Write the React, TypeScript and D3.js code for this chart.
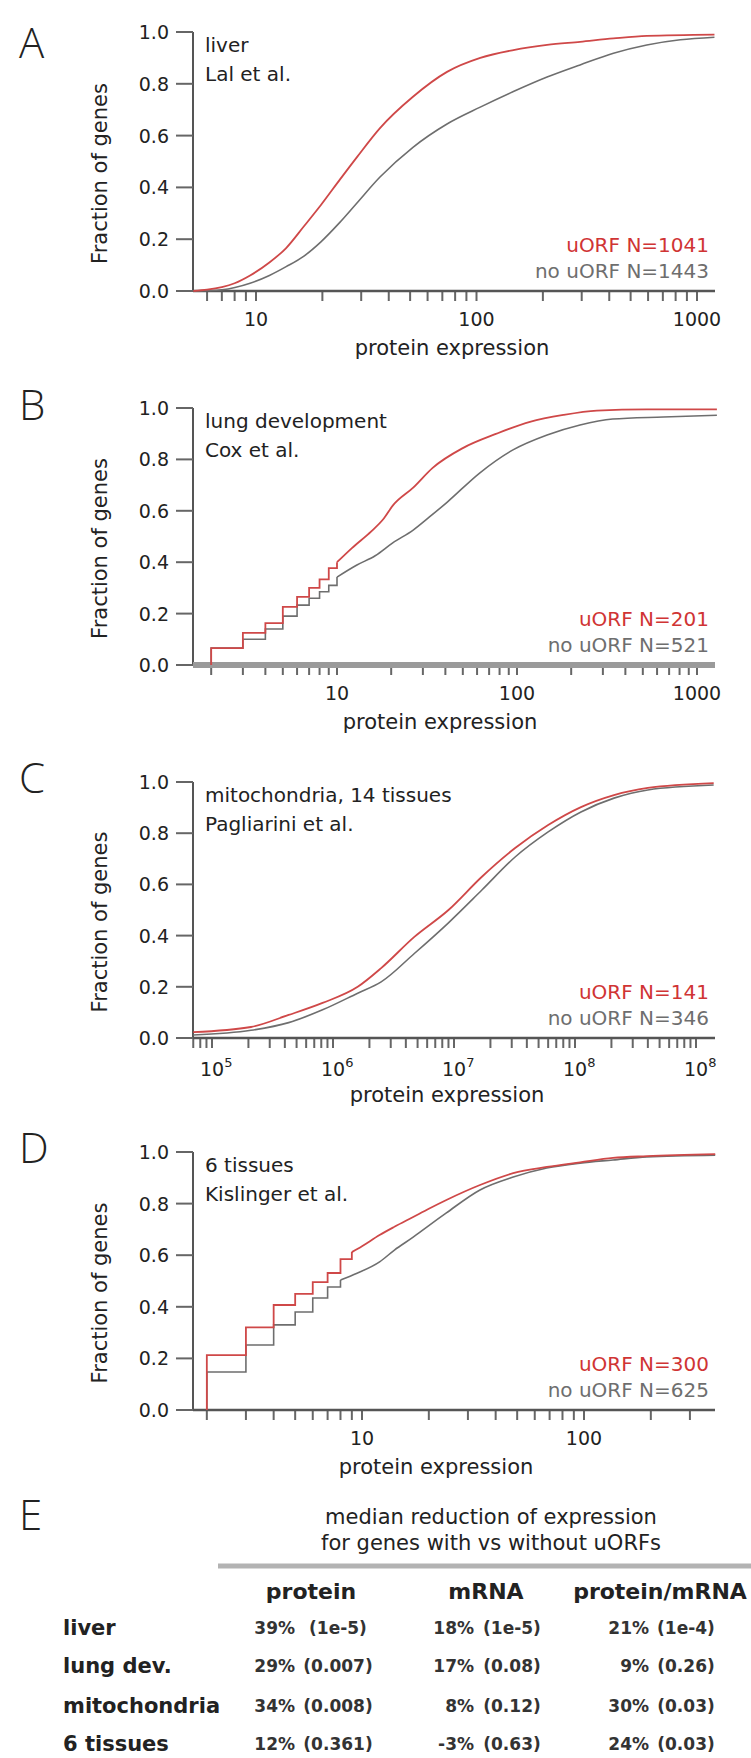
import React from 'react';
import * as d3 from 'd3';

type Pt = [number, number];

// ---------- shared axis values ----------
const yTickValues = [0, 0.2, 0.4, 0.6, 0.8, 1.0];
const yTickLabels = ['0.0', '0.2', '0.4', '0.6', '0.8', '1.0'];

// ---------- panel A : liver, Lal et al. ----------
const liverXTicks = [10, 100, 1000];
const liverXLabels = ['10', '100', '1000'];
const liverUorf: Pt[] = [[5.2, 0], [6, 0.005], [7, 0.015], [8, 0.03], [9.4, 0.06], [11.5, 0.11], [13.7, 0.166], [16.5, 0.25], [19.7, 0.332], [24, 0.43], [28.7, 0.517], [36.5, 0.629], [51.5, 0.75], [73.5, 0.846], [104, 0.9], [147, 0.93], [209, 0.95], [295, 0.962], [418, 0.975], [592, 0.985], [1200, 0.99]];
const liverNoUorf: Pt[] = [[5.2, 0], [7, 0.005], [9.4, 0.03], [11.5, 0.06], [13.7, 0.094], [16.5, 0.135], [19.7, 0.19], [24, 0.265], [28.7, 0.34], [36.5, 0.44], [51.5, 0.555], [73.5, 0.645], [104, 0.71], [147, 0.77], [209, 0.826], [295, 0.873], [418, 0.918], [592, 0.95], [840, 0.97], [1200, 0.98]];

// ---------- panel B : lung development, Cox et al. ----------
const lungXTicks = [10, 100, 1000];
const lungXLabels = ['10', '100', '1000'];
const lungUorfSteps: Pt[] = [[2, 0], [2, 0.066], [3, 0.125], [4, 0.163], [5, 0.226], [6, 0.265], [7, 0.3], [8, 0.333], [9, 0.377], [10, 0.4]];
const lungUorf: Pt[] = [[10, 0.4], [12.1, 0.455], [15.5, 0.52], [18.2, 0.57], [20.4, 0.62], [26.5, 0.69], [34, 0.767], [50, 0.844], [77, 0.9], [118, 0.946], [181, 0.973], [278, 0.99], [527, 0.995], [1290, 0.995]];
const lungNoUorfSteps: Pt[] = [[2, 0], [2, 0.066], [3, 0.1], [4, 0.14], [5, 0.19], [6, 0.233], [7, 0.26], [8, 0.285], [9, 0.31], [10, 0.342]];
const lungNoUorf: Pt[] = [[10, 0.342], [12.9, 0.389], [16.3, 0.425], [20.4, 0.475], [26.5, 0.525], [32.5, 0.575], [41, 0.634], [62, 0.747], [95, 0.837], [147, 0.895], [224, 0.934], [340, 0.957], [650, 0.965], [1290, 0.972]];

// ---------- panel C : mitochondria, Pagliarini et al. ----------
const mitoXTicks = [1e5, 1e6, 1e7, 1e8, 1e9];
const mitoXExponents = ['5', '6', '7', '8', '8'];
const mitoUorf: Pt[] = [[7e4, 0.023], [2.1e5, 0.043], [4.3e5, 0.09], [8.2e5, 0.137], [1.6e6, 0.2], [2.5e6, 0.273], [4.7e6, 0.395], [9e6, 0.5], [1.7e7, 0.63], [3.2e7, 0.742], [6e7, 0.832], [1.12e8, 0.902], [2.1e8, 0.949], [4e8, 0.977], [1.4e9, 0.996]];
const mitoNoUorf: Pt[] = [[7e4, 0.012], [2.1e5, 0.03], [4.3e5, 0.06], [8.2e5, 0.11], [1.6e6, 0.175], [2.5e6, 0.219], [4.7e6, 0.33], [9e6, 0.45], [1.7e7, 0.578], [3.2e7, 0.707], [6e7, 0.805], [1.12e8, 0.883], [2.1e8, 0.937], [4e8, 0.969], [1.4e9, 0.988]];

// ---------- panel D : 6 tissues, Kislinger et al. ----------
const tissueXTicks = [10, 100];
const tissueXLabels = ['10', '100'];
const tissueUorfSteps: Pt[] = [[2, 0], [2, 0.213], [3, 0.32], [4, 0.407], [5, 0.45], [6, 0.496], [7, 0.531], [8, 0.585], [9, 0.612]];
const tissueUorf: Pt[] = [[9, 0.612], [10, 0.635], [12, 0.678], [14, 0.71], [17, 0.748], [20, 0.78], [24, 0.814], [34, 0.872], [48, 0.918], [68, 0.942], [96, 0.96], [135, 0.977], [192, 0.984], [390, 0.992]];
const tissueNoUorfSteps: Pt[] = [[2, 0], [2, 0.147], [3, 0.252], [4, 0.33], [5, 0.38], [6, 0.434], [7, 0.477], [8, 0.504]];
const tissueNoUorf: Pt[] = [[8, 0.504], [9.5, 0.53], [12, 0.574], [14, 0.62], [17, 0.67], [20, 0.715], [24, 0.764], [34, 0.853], [48, 0.903], [68, 0.938], [96, 0.957], [135, 0.969], [192, 0.981], [390, 0.988]];

// ---------- panel E : table ----------
const tableTitle = ['median reduction of expression', 'for genes with vs without uORFs'];
const tableColumns = ['protein', 'mRNA', 'protein/mRNA'];
const tableRows = ['liver', 'lung dev.', 'mitochondria', '6 tissues'];
const proteinPct = ['39%', '29%', '34%', '12%'];
const proteinP = ['(1e-5)', '(0.007)', '(0.008)', '(0.361)'];
const mrnaPct = ['18%', '17%', '8%', '-3%'];
const mrnaP = ['(1e-5)', '(0.08)', '(0.12)', '(0.63)'];
const ratioPct = ['21%', '9%', '30%', '24%'];
const ratioP = ['(1e-4)', '(0.26)', '(0.03)', '(0.03)'];

const FONT = "'DejaVu Sans', 'Liberation Sans', sans-serif";
const LETTER_FONT = "'Open Sans', 'Liberation Sans', sans-serif";
const RED = '#cf4848';
const RED_TEXT = '#d03434';
const GRAY = '#6e6e6e';
const AXIS = '#555';
const AX_LEFT = 193;
const AX_RIGHT = 715;

interface PanelSpec {
  letter: string;
  letterY: number;
  y1: number;
  y0: number;
  dom: [number, number];
  rng: [number, number];
  ticks: number[];
  labels?: string[];
  exps?: string[];
  t1: string;
  t2: string;
  nU: string;
  nN: string;
  red: Pt[];
  gray: Pt[];
  redSteps?: Pt[];
  graySteps?: Pt[];
  thickXAxis?: boolean;
  titleX: number;
}

const panels: PanelSpec[] = [
  { letter: 'A', letterY: 58, y1: 32, y0: 291, dom: [10, 1000], rng: [256, 697], ticks: liverXTicks, labels: liverXLabels, t1: 'liver', t2: 'Lal et al.', nU: 'uORF N=1041', nN: 'no uORF N=1443', red: liverUorf, gray: liverNoUorf, titleX: 452 },
  { letter: 'B', letterY: 420, y1: 408, y0: 665, dom: [10, 1000], rng: [337, 697], ticks: lungXTicks, labels: lungXLabels, t1: 'lung development', t2: 'Cox et al.', nU: 'uORF N=201', nN: 'no uORF N=521', red: lungUorf, gray: lungNoUorf, redSteps: lungUorfSteps, graySteps: lungNoUorfSteps, thickXAxis: true, titleX: 440 },
  { letter: 'C', letterY: 793, y1: 782, y0: 1038, dom: [1e5, 1e9], rng: [212, 696], ticks: mitoXTicks, exps: mitoXExponents, t1: 'mitochondria, 14 tissues', t2: 'Pagliarini et al.', nU: 'uORF N=141', nN: 'no uORF N=346', red: mitoUorf, gray: mitoNoUorf, titleX: 447 },
  { letter: 'D', letterY: 1163, y1: 1152, y0: 1410, dom: [10, 100], rng: [362, 584], ticks: tissueXTicks, labels: tissueXLabels, t1: '6 tissues', t2: 'Kislinger et al.', nU: 'uORF N=300', nN: 'no uORF N=625', red: tissueUorf, gray: tissueNoUorf, redSteps: tissueUorfSteps, graySteps: tissueNoUorfSteps, titleX: 436 },
];

function Panel({ p }: { p: PanelSpec }) {
  const x = d3.scaleLog().domain(p.dom).range(p.rng);
  const y = d3.scaleLinear().domain([0, 1]).range([p.y0, p.y1]);
  const lo = x.invert(AX_LEFT);
  const hi = x.invert(AX_RIGHT);
  const minor = d3.scaleLog().domain([lo, hi]).ticks().filter((t) => t >= lo && t <= hi);
  const smooth = d3.line<Pt>().x((d) => x(d[0])).y((d) => y(d[1])).curve(d3.curveMonotoneX);
  const steps = d3.line<Pt>().x((d) => x(d[0])).y((d) => y(d[1])).curve(d3.curveStepAfter);
  const mid = (p.y0 + p.y1) / 2;
  return (
    <g>
      <text x={19} y={p.letterY} fontFamily={LETTER_FONT} fontWeight={300} fontSize={42} fill="#222">{p.letter}</text>
      {/* y axis */}
      <line x1={AX_LEFT} x2={AX_LEFT} y1={p.y1} y2={p.y0} stroke={AXIS} strokeWidth={2} />
      {yTickValues.map((v, i) => (
        <g key={i}>
          <line x1={AX_LEFT - 17} x2={AX_LEFT} y1={y(v)} y2={y(v)} stroke="#666" strokeWidth={2} />
          <text x={169} y={y(v) + 7} textAnchor="end" fontFamily={FONT} fontSize={19} fill="#222">{yTickLabels[i]}</text>
        </g>
      ))}
      <text transform={`translate(100,${mid + 12}) rotate(-90)`} textAnchor="middle" dominantBaseline="central" fontFamily={FONT} fontSize={21} fill="#222">Fraction of genes</text>
      {/* x axis */}
      {minor.map((t, i) => (
        <line key={i} x1={x(t)} x2={x(t)} y1={p.y0} y2={p.y0 + 10} stroke="#666" strokeWidth={2} />
      ))}
      <line x1={AX_LEFT} x2={AX_RIGHT} y1={p.y0} y2={p.y0} stroke={p.thickXAxis ? '#9a9a9a' : AXIS} strokeWidth={p.thickXAxis ? 6 : 2.5} />
      {p.ticks.map((t, i) =>
        p.exps ? (
          <text key={i} x={x(t) - 12} y={p.y0 + 38} fontFamily={FONT} fontSize={19} fill="#222">
            10<tspan dy={-9} fontSize={13}>{p.exps[i]}</tspan>
          </text>
        ) : (
          <text key={i} x={x(t)} y={p.y0 + 35} textAnchor="middle" fontFamily={FONT} fontSize={19} fill="#222">{p.labels![i]}</text>
        )
      )}
      <text x={p.titleX} y={p.y0 + 64} textAnchor="middle" fontFamily={FONT} fontSize={21} fill="#222">protein expression</text>
      {/* curves */}
      {p.graySteps && <path d={steps(p.graySteps) || ''} fill="none" stroke={GRAY} strokeWidth={1.6} />}
      <path d={smooth(p.gray) || ''} fill="none" stroke={GRAY} strokeWidth={1.6} />
      {p.redSteps && <path d={steps(p.redSteps) || ''} fill="none" stroke={RED} strokeWidth={1.8} />}
      <path d={smooth(p.red) || ''} fill="none" stroke={RED} strokeWidth={1.8} />
      {/* annotations */}
      <text x={205} y={p.y1 + 20} fontFamily={FONT} fontSize={20} fill="#222">{p.t1}</text>
      <text x={205} y={p.y1 + 49} fontFamily={FONT} fontSize={20} fill="#222">{p.t2}</text>
      <text x={709} y={p.y0 - 39} textAnchor="end" fontFamily={FONT} fontSize={20} fill={RED_TEXT}>{p.nU}</text>
      <text x={709} y={p.y0 - 13} textAnchor="end" fontFamily={FONT} fontSize={20} fill={GRAY}>{p.nN}</text>
    </g>
  );
}

function Table() {
  const rowY = [1628, 1666, 1706, 1744];
  const colCenter = [311, 486, 660];
  const pctRight = [295, 474, 649];
  const pCenter = [338, 512, 686];
  const pcts = [proteinPct, mrnaPct, ratioPct];
  const ps = [proteinP, mrnaP, ratioP];
  return (
    <g>
      <text x={19} y={1530} fontFamily={LETTER_FONT} fontWeight={300} fontSize={42} fill="#222">E</text>
      <text x={491} y={1524} textAnchor="middle" fontFamily={FONT} fontSize={21} fill="#222">{tableTitle[0]}</text>
      <text x={491} y={1550} textAnchor="middle" fontFamily={FONT} fontSize={21} fill="#222">{tableTitle[1]}</text>
      <line x1={218} x2={751} y1={1566} y2={1566} stroke="#b3b3b3" strokeWidth={5} />
      {tableColumns.map((c, i) => (
        <text key={c} x={colCenter[i]} y={1599} textAnchor="middle" fontFamily={FONT} fontWeight="bold" fontSize={22} fill="#222">{c}</text>
      ))}
      {tableRows.map((r, j) => (
        <g key={r}>
          <text x={63} y={rowY[j] + 7} fontFamily={FONT} fontWeight="bold" fontSize={21} fill="#222">{r}</text>
          {pcts.map((col, i) => (
            <g key={i}>
              <text x={pctRight[i]} y={rowY[j] + 6} textAnchor="end" fontFamily={FONT} fontWeight="bold" fontSize={17} fill="#333">{col[j]}</text>
              <text x={pCenter[i]} y={rowY[j] + 6} textAnchor="middle" fontFamily={FONT} fontWeight="bold" fontSize={17} fill="#333">{ps[i][j]}</text>
            </g>
          ))}
        </g>
      ))}
    </g>
  );
}

export default function App() {
  return (
    <svg width={751} height={1758} style={{ position: 'absolute', left: 0, top: 0, background: '#fff' }}>
      <rect x={0} y={0} width={751} height={1758} fill="#fff" />
      {panels.map((p) => (
        <Panel key={p.letter} p={p} />
      ))}
      <Table />
    </svg>
  );
}
